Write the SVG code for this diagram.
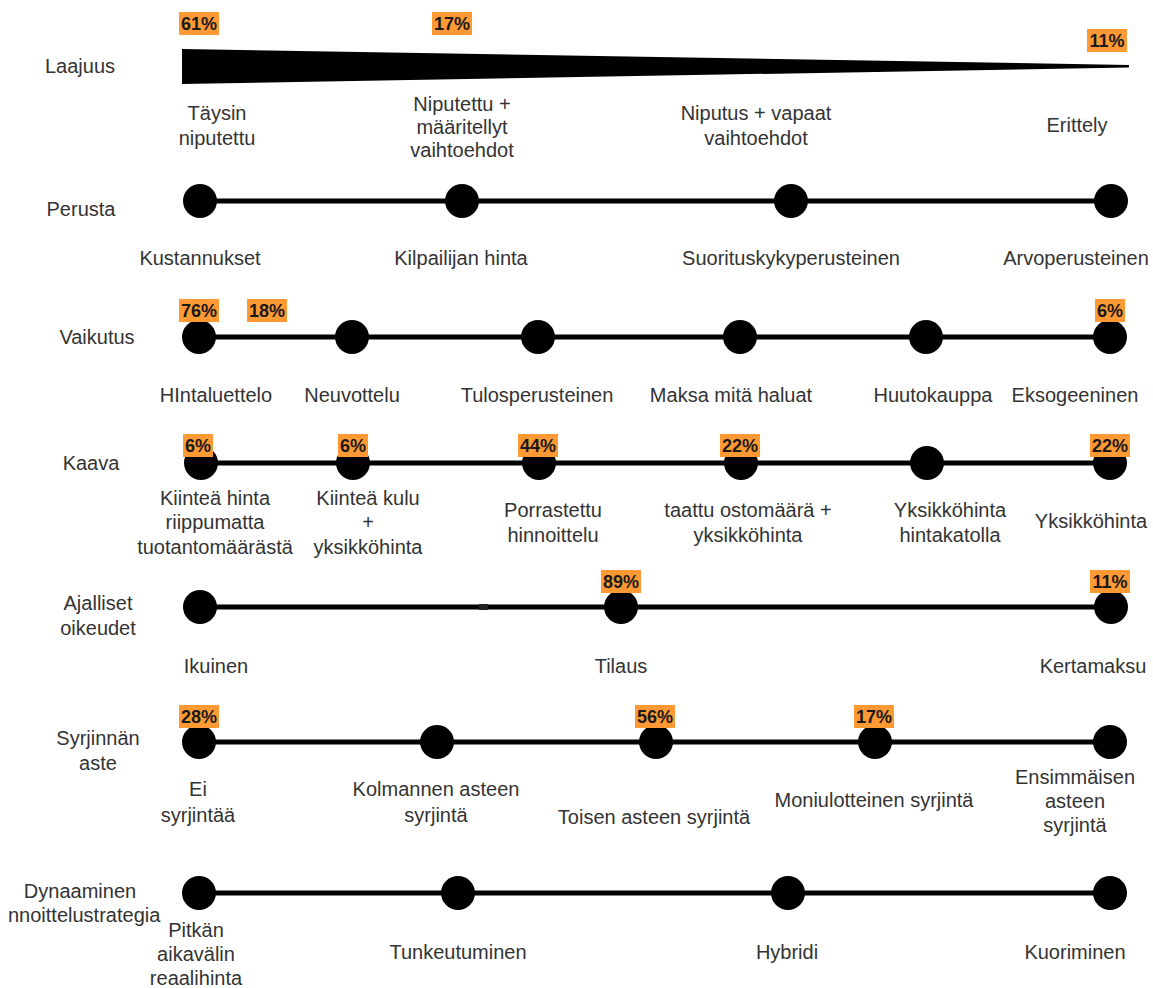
<svg xmlns="http://www.w3.org/2000/svg" width="1153" height="988" viewBox="0 0 1153 988">
<style>
.t{font-family:"Liberation Sans",Arial,sans-serif;font-size:20px;fill:#333333;text-anchor:middle}
.p{font-family:"Liberation Sans",Arial,sans-serif;font-size:18px;font-weight:bold;fill:#1a1a1a;text-anchor:middle}
.b{fill:#FF9933}
.ln{stroke:#000;stroke-width:5;fill:none}
.d{fill:#000}
</style>
<rect width="1153" height="988" fill="#ffffff"/>
<g id="connectors">
<polygon points="182,49 1129,65 1129,67.5 182,84" fill="#000"/>
<line class="ln" x1="200" y1="201" x2="1111" y2="201"/>
<line class="ln" x1="199" y1="337" x2="1110" y2="337"/>
<line class="ln" x1="201" y1="463" x2="1110" y2="463"/>
<line class="ln" x1="200" y1="607" x2="1111" y2="607"/>
<rect x="479" y="604" width="9" height="6" fill="#222"/>
<line class="ln" x1="199" y1="742" x2="1110" y2="742"/>
<line class="ln" x1="199" y1="893" x2="1110" y2="893"/>
</g>
<g id="row-laajuus">
<text class="t" x="80" y="73">Laajuus</text>
<rect class="b" x="179" y="12" width="40" height="23"/><text class="p" x="199" y="30">61%</text>
<rect class="b" x="432" y="12" width="40" height="23"/><text class="p" x="452" y="30">17%</text>
<rect class="b" x="1087" y="29" width="40" height="23"/><text class="p" x="1107" y="47">11%</text>
<text class="t" x="217" y="120">Täysin</text>
<text class="t" x="217" y="145">niputettu</text>
<text class="t" x="462" y="111">Niputettu +</text>
<text class="t" x="462" y="134">määritellyt</text>
<text class="t" x="462" y="157">vaihtoehdot</text>
<text class="t" x="756" y="120">Niputus + vapaat</text>
<text class="t" x="756" y="145">vaihtoehdot</text>
<text class="t" x="1077" y="132">Erittely</text>
</g>
<g id="row-perusta">
<text class="t" x="81" y="216">Perusta</text>
<circle class="d" cx="200" cy="201" r="17"/>
<circle class="d" cx="462" cy="201" r="17"/>
<circle class="d" cx="791" cy="201" r="17"/>
<circle class="d" cx="1111" cy="201" r="17"/>
<text class="t" x="200" y="265">Kustannukset</text>
<text class="t" x="461" y="265">Kilpailijan hinta</text>
<text class="t" x="791" y="265">Suorituskykyperusteinen</text>
<text class="t" x="1076" y="265">Arvoperusteinen</text>
</g>
<g id="row-vaikutus">
<text class="t" x="97" y="344">Vaikutus</text>
<circle class="d" cx="199" cy="337" r="17"/>
<circle class="d" cx="352" cy="337" r="17"/>
<circle class="d" cx="538" cy="337" r="17"/>
<circle class="d" cx="740" cy="337" r="17"/>
<circle class="d" cx="926" cy="337" r="17"/>
<circle class="d" cx="1110" cy="337" r="17"/>
<rect class="b" x="179" y="299" width="40" height="23"/><text class="p" x="199" y="317">76%</text>
<rect class="b" x="247" y="299" width="40" height="23"/><text class="p" x="267" y="317">18%</text>
<rect class="b" x="1095" y="299" width="30" height="23"/><text class="p" x="1110" y="317">6%</text>
<text class="t" x="216" y="402">HIntaluettelo</text>
<text class="t" x="352" y="402">Neuvottelu</text>
<text class="t" x="537" y="402">Tulosperusteinen</text>
<text class="t" x="731" y="402">Maksa mitä haluat</text>
<text class="t" x="933" y="402">Huutokauppa</text>
<text class="t" x="1075" y="402">Eksogeeninen</text>
</g>
<g id="row-kaava">
<text class="t" x="91" y="470">Kaava</text>
<circle class="d" cx="201" cy="463" r="17"/>
<circle class="d" cx="353" cy="463" r="17"/>
<circle class="d" cx="539" cy="463" r="17"/>
<circle class="d" cx="741" cy="463" r="17"/>
<circle class="d" cx="927" cy="463" r="17"/>
<circle class="d" cx="1110" cy="463" r="17"/>
<rect class="b" x="183" y="434" width="30" height="23"/><text class="p" x="198" y="452">6%</text>
<rect class="b" x="338" y="434" width="30" height="23"/><text class="p" x="353" y="452">6%</text>
<rect class="b" x="518" y="434" width="40" height="23"/><text class="p" x="538" y="452">44%</text>
<rect class="b" x="720" y="434" width="40" height="23"/><text class="p" x="740" y="452">22%</text>
<rect class="b" x="1090" y="434" width="40" height="23"/><text class="p" x="1110" y="452">22%</text>
<text class="t" x="215" y="505">Kiinteä hinta</text>
<text class="t" x="215" y="529">riippumatta</text>
<text class="t" x="215" y="554">tuotantomäärästä</text>
<text class="t" x="368" y="505">Kiinteä kulu</text>
<text class="t" x="368" y="529">+</text>
<text class="t" x="368" y="554">yksikköhinta</text>
<text class="t" x="553" y="517">Porrastettu</text>
<text class="t" x="553" y="542">hinnoittelu</text>
<text class="t" x="748" y="517">taattu ostomäärä +</text>
<text class="t" x="748" y="542">yksikköhinta</text>
<text class="t" x="950" y="517">Yksikköhinta</text>
<text class="t" x="950" y="542">hintakatolla</text>
<text class="t" x="1091" y="528">Yksikköhinta</text>
</g>
<g id="row-ajalliset">
<text class="t" x="98" y="610">Ajalliset</text>
<text class="t" x="98" y="635">oikeudet</text>
<circle class="d" cx="200" cy="607" r="17"/>
<circle class="d" cx="621" cy="607" r="17"/>
<circle class="d" cx="1111" cy="607" r="17"/>
<rect class="b" x="601" y="570" width="40" height="23"/><text class="p" x="621" y="588">89%</text>
<rect class="b" x="1090" y="570" width="40" height="23"/><text class="p" x="1110" y="588">11%</text>
<text class="t" x="216" y="673">Ikuinen</text>
<text class="t" x="621" y="673">Tilaus</text>
<text class="t" x="1093" y="673">Kertamaksu</text>
</g>
<g id="row-syrjinta">
<text class="t" x="98" y="745">Syrjinnän</text>
<text class="t" x="98" y="770">aste</text>
<circle class="d" cx="199" cy="742" r="17"/>
<circle class="d" cx="437" cy="742" r="17"/>
<circle class="d" cx="656" cy="742" r="17"/>
<circle class="d" cx="875" cy="742" r="17"/>
<circle class="d" cx="1110" cy="742" r="17"/>
<rect class="b" x="179" y="705" width="40" height="23"/><text class="p" x="199" y="723">28%</text>
<rect class="b" x="635" y="705" width="40" height="23"/><text class="p" x="655" y="723">56%</text>
<rect class="b" x="854" y="705" width="40" height="23"/><text class="p" x="874" y="723">17%</text>
<text class="t" x="198" y="796">Ei</text>
<text class="t" x="198" y="822">syrjintää</text>
<text class="t" x="436" y="796">Kolmannen asteen</text>
<text class="t" x="436" y="822">syrjintä</text>
<text class="t" x="654" y="824">Toisen asteen syrjintä</text>
<text class="t" x="874" y="807">Moniulotteinen syrjintä</text>
<text class="t" x="1075" y="784">Ensimmäisen</text>
<text class="t" x="1075" y="808">asteen</text>
<text class="t" x="1075" y="832">syrjintä</text>
</g>
<g id="row-dynaaminen">
<text class="t" x="80" y="898">Dynaaminen</text>
<text class="t" x="8" y="922" style="text-anchor:start">nnoittelustrategia</text>
<circle class="d" cx="199" cy="893" r="17"/>
<circle class="d" cx="458" cy="893" r="17"/>
<circle class="d" cx="788" cy="893" r="17"/>
<circle class="d" cx="1110" cy="893" r="17"/>
<text class="t" x="196" y="937">Pitkän</text>
<text class="t" x="196" y="961">aikavälin</text>
<text class="t" x="196" y="985">reaalihinta</text>
<text class="t" x="458" y="959">Tunkeutuminen</text>
<text class="t" x="787" y="959">Hybridi</text>
<text class="t" x="1075" y="959">Kuoriminen</text>
</g>
</svg>
